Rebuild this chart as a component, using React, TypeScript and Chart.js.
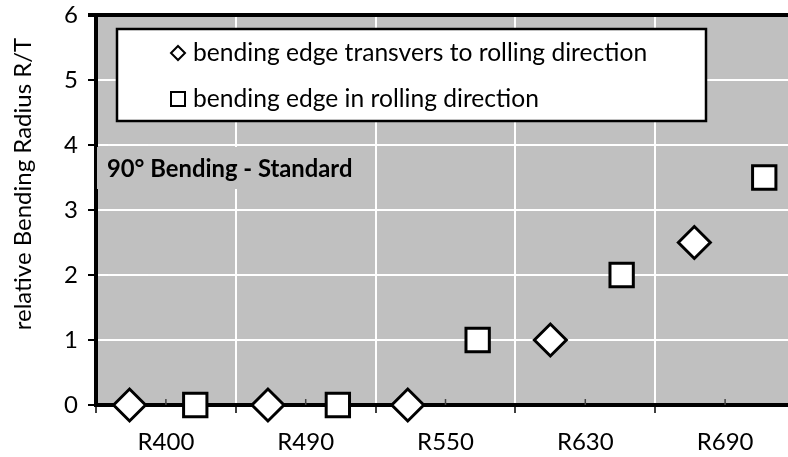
import React, { useEffect, useRef } from 'react';
import { Chart, registerables } from 'chart.js';

Chart.register(...registerables);

const categories = ['R400', 'R490', 'R550', 'R630', 'R690'];
const transX = [0.24, 1.23, 2.23, 3.25, 4.28];
const transY = [0, 0, 0, 1, 2.5];
const rollX = [0.71, 1.73, 2.73, 3.76, 4.78];
const rollY = [0, 0, 1, 2, 3.5];
const yMin = 0;
const yMax = 6;
const legendLabels = ['bending edge transvers to rolling direction', 'bending edge in rolling direction'];
const yTitle = 'relative Bending Radius R/T';
const noteText = '90° Bending - Standard';

const FONT = 'Lato';

const decoPlugin = {
  id: 'deco',
  beforeDraw(chart: any) {
    const { ctx, chartArea: a } = chart;
    ctx.save();
    ctx.fillStyle = '#C0C0C0';
    ctx.fillRect(a.left, a.top, a.right - a.left, a.bottom - a.top);
    ctx.restore();
  },
  beforeDatasetsDraw(chart: any) {
    const { ctx, chartArea: a } = chart;
    const xs = chart.scales.x;
    const ys = chart.scales.y;
    ctx.save();
    // top frame line
    ctx.strokeStyle = '#000';
    ctx.lineWidth = 4;
    ctx.beginPath();
    ctx.moveTo(a.left - 8, ys.getPixelForValue(yMax));
    ctx.lineTo(a.right, ys.getPixelForValue(yMax));
    ctx.stroke();
    // minor inward ticks at category centres
    ctx.strokeStyle = '#444';
    ctx.lineWidth = 1.5;
    categories.forEach((_, i) => {
      const px = xs.getPixelForValue(i + 0.5);
      ctx.beginPath();
      ctx.moveTo(px, a.bottom - 6);
      ctx.lineTo(px, a.bottom);
      ctx.stroke();
    });
    ctx.restore();
  },
  afterDraw(chart: any) {
    const { ctx } = chart;
    ctx.save();
    // note box
    ctx.fillStyle = '#C0C0C0';
    ctx.fillRect(97, 147, 262, 42);
    ctx.fillStyle = '#000';
    ctx.font = `bold 23.8px ${FONT}`;
    ctx.textBaseline = 'middle';
    ctx.textAlign = 'left';
    ctx.fillText(noteText, 107, 169);

    // legend
    ctx.fillStyle = '#fff';
    ctx.fillRect(117, 29, 589, 92);
    ctx.strokeStyle = '#000';
    ctx.lineWidth = 2.5;
    ctx.strokeRect(117, 29, 589, 92);
    const rows = [53, 99];
    ctx.lineWidth = 2;
    // diamond symbol
    ctx.beginPath();
    ctx.moveTo(178, rows[0] - 7);
    ctx.lineTo(185, rows[0]);
    ctx.lineTo(178, rows[0] + 7);
    ctx.lineTo(171, rows[0]);
    ctx.closePath();
    ctx.stroke();
    // square symbol
    ctx.strokeRect(171, rows[1] - 7, 14, 14);
    ctx.fillStyle = '#000';
    ctx.font = `24.6px ${FONT}`;
    ctx.textBaseline = 'middle';
    legendLabels.forEach((t, i) => ctx.fillText(t, 193, rows[i]));

    // y title
    ctx.translate(23, 184);
    ctx.rotate(-Math.PI / 2);
    ctx.textAlign = 'center';
    ctx.font = `24px ${FONT}`;
    ctx.fillText(yTitle, 0, 0);
    ctx.restore();
  },
};

export default function App() {
  const ref = useRef<HTMLCanvasElement | null>(null);
  useEffect(() => {
    if (!ref.current) return;
    const chart = new Chart(ref.current, {
      type: 'scatter',
      data: {
        datasets: [
          {
            label: legendLabels[0],
            data: transX.map((x, i) => ({ x, y: transY[i] })),
            pointStyle: 'rectRot',
            pointRadius: 16,
            borderWidth: 3,
            borderColor: '#000',
            backgroundColor: '#fff',
            clip: false,
          },
          {
            label: legendLabels[1],
            data: rollX.map((x, i) => ({ x, y: rollY[i] })),
            pointStyle: 'rect',
            pointRadius: 16.5,
            borderWidth: 3,
            borderColor: '#000',
            backgroundColor: '#fff',
            clip: false,
          },
        ] as any,
      },
      options: {
        animation: false,
        responsive: false,
        events: [],
        layout: { autoPadding: false, padding: { top: 15, right: 5, left: 0, bottom: 0 } },
        plugins: { legend: { display: false }, tooltip: { enabled: false } },
        scales: {
          x: {
            type: 'linear',
            min: 0,
            max: categories.length,
            afterBuildTicks: (s: any) => {
              const t: any[] = [];
              for (let i = 0; i <= categories.length * 2; i++) t.push({ value: i / 2 });
              s.ticks = t;
            },
            afterFit: (s: any) => {
              s.height = 52;
              s.paddingLeft = 0;
              s.paddingRight = 0;
            },
            grid: {
              z: -1,
              color: (c: any) => (c.tick && c.tick.value % 1 === 0 ? '#fff' : 'rgba(0,0,0,0)'),
              lineWidth: 2,
              tickColor: (c: any) => (c.tick && c.tick.value % 1 === 0 ? '#000' : 'rgba(0,0,0,0)'),
              tickWidth: 1.5,
              tickLength: 8,
            },
            border: { color: '#000', width: 4 },
            ticks: {
              autoSkip: false,
              maxRotation: 0,
              color: '#000',
              padding: 15,
              font: { family: FONT, size: 24 },
              callback: (v: any) => (Number(v) % 1 === 0.5 ? categories[Math.floor(Number(v))] : ''),
            },
          },
          y: {
            min: yMin,
            max: yMax,
            afterFit: (s: any) => {
              s.width = 96;
              s.paddingTop = 0;
              s.paddingBottom = 0;
            },
            grid: {
              color: '#fff',
              lineWidth: 2,
              tickColor: '#000',
              tickWidth: 2,
              tickLength: 8,
            },
            border: { color: '#000', width: 4 },
            ticks: {
              stepSize: 1,
              color: '#000',
              padding: 10,
              font: { family: FONT, size: 24 },
            },
          },
        },
      },
      plugins: [decoPlugin],
    } as any);
    return () => chart.destroy();
  }, []);
  return (
    <div style={{ position: 'fixed', left: 0, top: 0, width: 788, height: 457, overflow: 'hidden', background: '#fff' }}>
      <canvas ref={ref} width={800} height={457} style={{ width: 800, height: 457, display: 'block' }} />
    </div>
  );
}
